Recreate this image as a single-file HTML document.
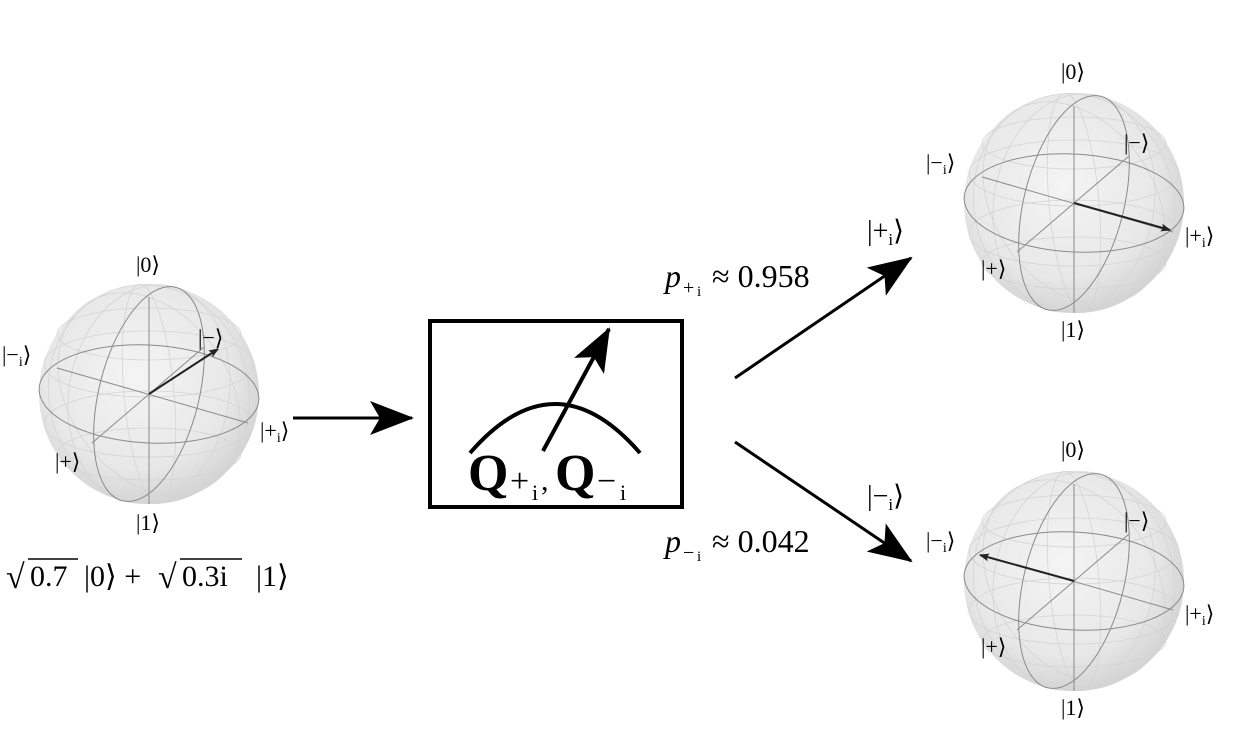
<!DOCTYPE html>
<html><head><meta charset="utf-8"><style>
html,body{margin:0;padding:0;background:#fff}
svg{display:block}
svg text{font-family:"Liberation Serif","DejaVu Serif",serif !important;fill:#000}
.l{font-size:22px}
.s{font-size:14px}
</style></head><body>
<svg width="1252" height="744" viewBox="0 0 1252 744" xmlns="http://www.w3.org/2000/svg" font-family="Liberation Serif, serif">
<defs>
<radialGradient id="g" cx="0.45" cy="0.42" r="0.6">
<stop offset="0" stop-color="#f4f4f4"/><stop offset="0.7" stop-color="#e8e8e8"/><stop offset="1" stop-color="#d2d2d2"/>
</radialGradient>
<g id="sph">
<circle r="110" fill="url(#g)"/>
<g fill="none" stroke="#d4d4d4" stroke-width="0.8">
<ellipse cx="0" cy="-60" rx="92" ry="26"/>
<ellipse cx="0" cy="-30" rx="105" ry="33"/>
<ellipse cx="0" cy="30" rx="105" ry="33"/>
<ellipse cx="0" cy="60" rx="92" ry="26"/>
<ellipse rx="80" ry="110" transform="rotate(-35)"/>
<ellipse rx="80" ry="110" transform="rotate(10)"/>
<ellipse rx="25" ry="110" transform="rotate(-5)"/>
<ellipse rx="100" ry="110" transform="rotate(-15)"/>
</g>
<g fill="none" stroke="#8a8a8a" stroke-width="1">
<ellipse rx="110" ry="49" transform="rotate(3)"/>
<ellipse rx="50" ry="110" transform="rotate(14)"/>
<line x1="0" y1="-97" x2="0" y2="110"/>
<line x1="-92" y1="-26" x2="99" y2="29"/>
<line x1="-57" y1="49" x2="55" y2="-47"/>
</g>
</g>
<marker id="ah" markerWidth="10" markerHeight="8" refX="9" refY="4" orient="auto" markerUnits="userSpaceOnUse"><path d="M0,0 L10,4 L0,8 L2,4z" fill="#222"/></marker>
<marker id="big" markerWidth="44" markerHeight="34" refX="42" refY="17" orient="auto" markerUnits="userSpaceOnUse"><path d="M0,0 L44,17 L0,34 L10,17z" fill="#000"/></marker>
</defs>

<use href="#sph" x="149" y="394"/>
<line x1="149" y1="394" x2="218" y2="349" stroke="#222" stroke-width="2" marker-end="url(#ah)"/>
<text class="l" x="136" y="272">|0⟩</text>
<text class="l" x="2" y="362">|−<tspan class="s" dy="4">i</tspan><tspan dy="-4">⟩</tspan></text>
<text class="l" x="198" y="345">|−⟩</text>
<text class="l" x="260" y="438">|+<tspan class="s" dy="4">i</tspan><tspan dy="-4">⟩</tspan></text>
<text class="l" x="55" y="469">|+⟩</text>
<text class="l" x="136" y="530">|1⟩</text>
<g style="font-size:30px">
<text x="6" y="588" style="font-size:34px">√</text>
<line x1="28" y1="559" x2="78" y2="559" stroke="#000" stroke-width="1.4"/>
<text x="30" y="586">0.7</text>
<text x="84" y="586">|0⟩ +</text>
<text x="158" y="588" style="font-size:34px">√</text>
<line x1="180" y1="559" x2="242" y2="559" stroke="#000" stroke-width="1.4"/>
<text x="182" y="586">0.3i</text>
<text x="256" y="586">|1⟩</text>
</g>

<line x1="293" y1="418" x2="412" y2="418" stroke="#000" stroke-width="3" marker-end="url(#big)"/>

<rect x="430" y="321" width="252" height="186" fill="none" stroke="#000" stroke-width="4"/>
<path d="M470,453 Q555,355 640,453" fill="none" stroke="#000" stroke-width="4"/>
<line x1="543" y1="451" x2="609" y2="329" stroke="#000" stroke-width="4" marker-end="url(#big)"/>
<text x="468" y="490" style="font-size:52px;font-weight:bold">Q</text>
<text x="510" y="492" style="font-size:34px">+</text>
<text x="532" y="500" style="font-size:22px">i</text>
<text x="541" y="490" style="font-size:30px">,</text>
<text x="555" y="490" style="font-size:52px;font-weight:bold">Q</text>
<text x="597" y="492" style="font-size:34px">−</text>
<text x="620" y="500" style="font-size:22px">i</text>

<line x1="735" y1="378" x2="911" y2="258" stroke="#000" stroke-width="3" marker-end="url(#big)"/>
<line x1="735" y1="442" x2="911" y2="561" stroke="#000" stroke-width="3" marker-end="url(#big)"/>
<g style="font-size:32px">
<text x="665" y="287" font-style="italic">p</text>
<text x="683" y="294" style="font-size:20px">+</text><text x="697" y="296" style="font-size:15px">i</text>
<text x="712" y="287">≈ 0.958</text>
<text x="665" y="552" font-style="italic">p</text>
<text x="683" y="559" style="font-size:20px">−</text><text x="697" y="561" style="font-size:15px">i</text>
<text x="712" y="552">≈ 0.042</text>
</g>
<text x="867" y="240" style="font-size:28px">|+<tspan style="font-size:17px" dy="5">i</tspan><tspan dy="-5">⟩</tspan></text>
<text x="867" y="505" style="font-size:28px">|−<tspan style="font-size:17px" dy="5">i</tspan><tspan dy="-5">⟩</tspan></text>

<use href="#sph" x="1074" y="203"/>
<line x1="1074" y1="203" x2="1170" y2="230" stroke="#222" stroke-width="2" marker-end="url(#ah)"/>
<text class="l" x="1061" y="79">|0⟩</text>
<text class="l" x="926" y="170">|−<tspan class="s" dy="4">i</tspan><tspan dy="-4">⟩</tspan></text>
<text class="l" x="1124" y="150">|−⟩</text>
<text class="l" x="1185" y="243">|+<tspan class="s" dy="4">i</tspan><tspan dy="-4">⟩</tspan></text>
<text class="l" x="981" y="276">|+⟩</text>
<text class="l" x="1061" y="337">|1⟩</text>

<use href="#sph" x="1074" y="581"/>
<line x1="1074" y1="581" x2="980" y2="555" stroke="#222" stroke-width="2" marker-end="url(#ah)"/>
<text class="l" x="1061" y="457">|0⟩</text>
<text class="l" x="926" y="548">|−<tspan class="s" dy="4">i</tspan><tspan dy="-4">⟩</tspan></text>
<text class="l" x="1124" y="528">|−⟩</text>
<text class="l" x="1185" y="621">|+<tspan class="s" dy="4">i</tspan><tspan dy="-4">⟩</tspan></text>
<text class="l" x="981" y="654">|+⟩</text>
<text class="l" x="1061" y="715">|1⟩</text>
</svg>
</body></html>
